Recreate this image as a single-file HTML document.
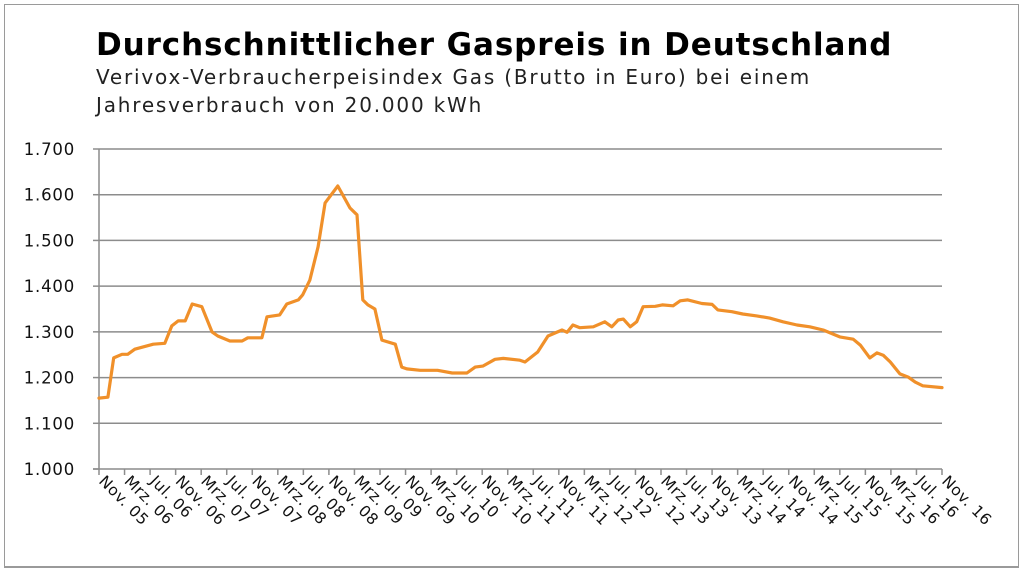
<!DOCTYPE html>
<html><head><meta charset="utf-8">
<style>
html,body{margin:0;padding:0;background:#fff;}
body{width:1024px;height:573px;overflow:hidden;position:relative;font-family:"DejaVu Sans","Liberation Sans",sans-serif;}
#frame{position:absolute;left:4px;top:4px;width:1013px;height:561px;border:1px solid #9a9a9a;border-bottom:2px solid #9a9a9a;}
</style></head>
<body>
<div id="frame"></div>
<svg id="chart" width="1024" height="573" style="position:absolute;left:0;top:0">
<text x="96" y="55" font-family="DejaVu Sans, sans-serif" font-weight="bold" font-size="31" letter-spacing="0.9" fill="#000">Durchschnittlicher Gaspreis in Deutschland</text>
<text x="96" y="84" font-family="DejaVu Sans, sans-serif" font-size="20" letter-spacing="1.8" fill="#222">Verivox-Verbraucherpeisindex Gas (Brutto in Euro) bei einem</text>
<text x="96" y="112" font-family="DejaVu Sans, sans-serif" font-size="20" letter-spacing="1.8" fill="#222">Jahresverbrauch von 20.000 kWh</text>
<g id="grid"></g><g id="yaxis"></g><g id="xaxis"></g><g id="series"></g>
</svg>
<script>
const yTicks=[1000,1100,1200,1300,1400,1500,1600,1700];
const yTickLabels=["1.000","1.100","1.200","1.300","1.400","1.500","1.600","1.700"];
const xLabels=["Nov. 05","Mrz. 06","Jul. 06","Nov. 06","Mrz. 07","Jul. 07","Nov. 07","Mrz. 08","Jul. 08","Nov. 08","Mrz. 09","Jul. 09","Nov. 09","Mrz. 10","Jul. 10","Nov. 10","Mrz. 11","Jul. 11","Nov. 11","Mrz. 12","Jul. 12","Nov. 12","Mrz. 13","Jul. 13","Nov. 13","Mrz. 14","Jul. 14","Nov. 14","Mrz. 15","Jul. 15","Nov. 15","Mrz. 16","Jul. 16","Nov. 16"];
// months since Nov 2005
const months=[0,1.4,2.3,3.6,4.5,5.6,6.9,8.5,10.3,11.4,12.4,13.5,14.6,16.1,17.7,18.6,20.5,22.4,23.3,25.5,26.3,28.3,29.4,31.2,31.9,33,34.3,35.4,37.4,39.3,40.4,41.3,42.1,43.2,44.3,46.4,47.4,48.2,50.3,53,55.3,57.6,58.9,60.1,62,63.3,65.9,66.7,68.7,70.3,72.5,73.3,74.2,75.3,77.4,79.2,80.3,81.3,82.1,83.2,84.2,85.2,87.1,88.2,89.9,91,92.2,94.4,96,96.9,99.1,100.8,103,105,107.1,109.3,111.3,113.4,116,118.1,119.2,120.7,121.8,122.8,123.9,125.4,126.7,127.8,129,132];
const prices=[1155,1157,1243,1251,1251,1262,1267,1273,1275,1313,1324,1324,1361,1355,1300,1291,1280,1280,1287,1287,1333,1337,1361,1370,1381,1413,1486,1582,1619,1571,1556,1370,1359,1350,1282,1273,1223,1219,1216,1216,1210,1210,1223,1225,1240,1242,1238,1234,1256,1291,1304,1299,1315,1309,1311,1322,1311,1326,1328,1311,1322,1355,1356,1359,1357,1368,1370,1362,1360,1348,1344,1339,1335,1330,1322,1315,1311,1304,1289,1284,1271,1243,1254,1249,1234,1208,1201,1190,1182,1178];
const L=99,R=942,T=149,B=469,NS="http://www.w3.org/2000/svg";
const xs=m=>L+(R-L)*m/132;
const ys=v=>B-(B-T)*(v-1000)/700;
function mk(tag,attrs,parent){const e=document.createElementNS(NS,tag);for(const k in attrs)e.setAttribute(k,attrs[k]);parent.appendChild(e);return e;}
const grid=document.getElementById('grid'),yax=document.getElementById('yaxis'),xax=document.getElementById('xaxis'),ser=document.getElementById('series');
yTicks.forEach((v,i)=>{
  if(i>0){const g=mk('line',{x1:L,x2:R,y1:ys(v),y2:ys(v),stroke:'#8c8c8c','stroke-width':1.5},grid);
  
  }
  const tk=mk('line',{x1:L-6,x2:L,y1:ys(v),y2:ys(v),stroke:'#8c8c8c','stroke-width':1.5},yax);
  
  
  const t=mk('text',{x:75,y:ys(v)+6,'text-anchor':'end','font-size':16.5,'letter-spacing':0.8,fill:'#111'},yax);
  t.textContent=yTickLabels[i];
  
  
});
const ya=mk('line',{x1:L,x2:L,y1:T,y2:B,stroke:'#8c8c8c','stroke-width':1.5},yax);


const xa=mk('line',{x1:L-6,x2:R,y1:B,y2:B,stroke:'#8c8c8c','stroke-width':1.5},xax);


xLabels.forEach((lab,i)=>{
  const x=xs(i*4);
  const tk=mk('line',{x1:x,x2:x,y1:B,y2:B+6,stroke:'#8c8c8c','stroke-width':1.5},xax);
  
  
  const t=mk('text',{x:0,y:0,'font-size':15.5,'letter-spacing':0.6,fill:'#111',transform:`translate(${x-1},${B+13}) rotate(45)`},xax);
  t.textContent=lab;
  
  
});
const pts=months.map((m,i)=>xs(m).toFixed(1)+','+ys(prices[i]).toFixed(1)).join(' ');
const pl=mk('polyline',{points:pts,fill:'none',stroke:'#f0902a','stroke-width':3.2,'stroke-linejoin':'round','stroke-linecap':'round'},ser);


</script>
</body></html>
